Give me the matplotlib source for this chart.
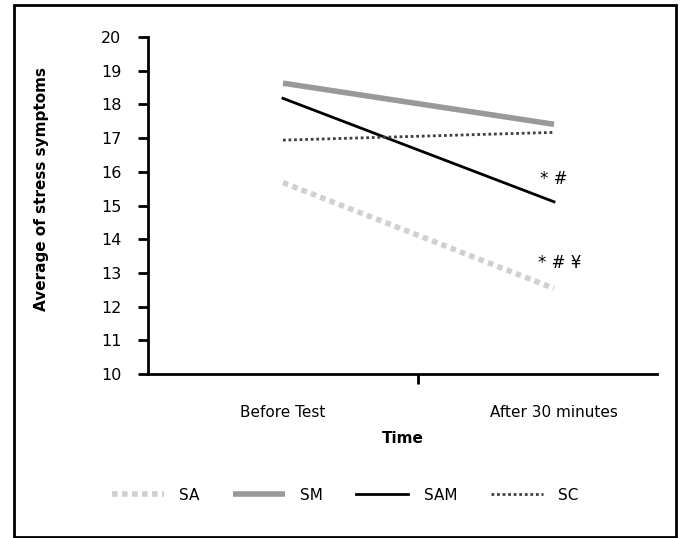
import matplotlib
matplotlib.use("Agg")
import matplotlib.pyplot as plt
from matplotlib.patches import Rectangle

plt.rcParams["font.family"] = ["DejaVu Sans"]

# data
times = ["Before Test", "After 30 minutes"]
sa = [15.68, 12.54]
sm = [18.63, 17.41]
sam = [18.18, 15.11]
sc = [16.94, 17.17]

W, H = 682, 538
fig = plt.figure(figsize=(W / 100, H / 100), dpi=100)

# outer frame round the whole chart
fig.patches.append(Rectangle((14 / W, 1 / H), 662 / W, 1 - 6 / H, transform=fig.transFigure,
                             fill=False, edgecolor="black", linewidth=2))

ax = fig.add_axes([148 / W, 1 - 374 / H, (657 - 148) / W, (374 - 37) / H])
x = [0, 1]

ax.plot(x, sa, color="#d0d0d0", linewidth=4, linestyle=(0, (1, 0.8)), label="SA")
ax.plot(x, sm, color="#999999", linewidth=4, solid_capstyle="butt", label="SM")
ax.plot(x, sam, color="black", linewidth=2, label="SAM")
ax.plot(x, sc, color="#404040", linewidth=2, linestyle=(0, (1, 1)), label="SC")

ax.text(1.0, 15.8, "* #", fontsize=12, ha="center", va="center")
ax.text(1.02, 13.3, "* # ¥", fontsize=12, ha="center", va="center")

ax.set_xlim(-0.498, 1.38)
ax.set_ylim(10, 20)
ax.set_yticks(range(10, 21))
for s in ["top", "right"]:
    ax.spines[s].set_visible(False)
ax.spines["left"].set_linewidth(2)
ax.spines["bottom"].set_linewidth(2)

ax.set_xticks([0.5])
ax.set_xticklabels([])
ax.set_xticks(x, minor=True)
ax.set_xticklabels(times, minor=True, fontsize=11)
ax.tick_params(axis="x", which="major", length=7, width=2, direction="out")
ax.tick_params(axis="x", which="minor", length=0, pad=22)
ax.tick_params(axis="y", length=7, width=2, labelsize=11.5, pad=12)

ax.set_xlabel("Time", fontsize=11, fontweight="bold", labelpad=8)
fig.text(42 / W, 1 - 189 / H, "Average of stress symptoms", rotation=90, fontsize=11,
         fontweight="bold", ha="center", va="center")

fig.legend(loc="center", bbox_to_anchor=(345 / W, 1 - 495 / H), ncol=4, frameon=False,
           fontsize=11, handlelength=3.4, columnspacing=2.2, handletextpad=1.0)

fig.savefig("out.png", dpi=100)
